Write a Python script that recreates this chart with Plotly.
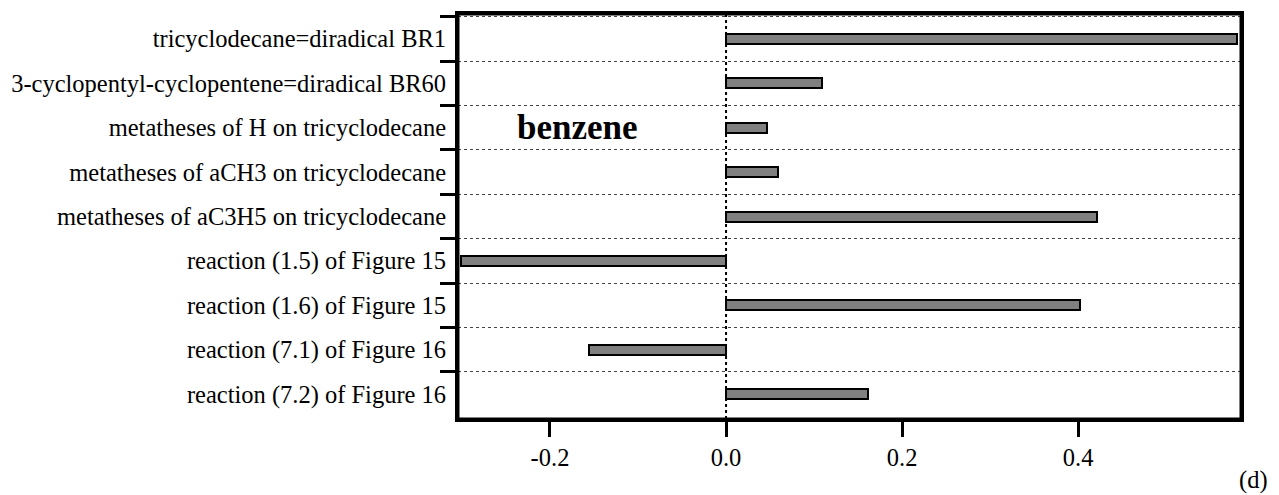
import plotly.graph_objects as go

categories = [
    "tricyclodecane=diradical BR1",
    "3-cyclopentyl-cyclopentene=diradical BR60",
    "metatheses of H on tricyclodecane",
    "metatheses of aCH3 on tricyclodecane",
    "metatheses of aC3H5 on tricyclodecane",
    "reaction (1.5) of Figure 15",
    "reaction (1.6) of Figure 15",
    "reaction (7.1) of Figure 16",
    "reaction (7.2) of Figure 16",
]
values = [0.581, 0.109, 0.047, 0.059, 0.421, -0.301, 0.402, -0.156, 0.161]
x_ticks = [-0.2, 0.0, 0.2, 0.4]
x_tick_labels = ["-0.2", "0.0", "0.2", "0.4"]

FONT = "Liberation Serif, Times New Roman, serif"

fig = go.Figure()
fig.add_trace(go.Bar(
    x=values, y=categories, orientation="h", width=0.225,
    marker=dict(color="#808080", line=dict(color="black", width=2)),
    showlegend=False, hoverinfo="x+y",
))

fig.add_shape(type="line", xref="x", yref="paper", x0=0, x1=0, y0=0, y1=1,
              line=dict(color="black", width=2, dash="dot"), layer="above")
fig.add_shape(type="rect", xref="paper", yref="paper", x0=0, x1=1, y0=0, y1=1,
              line=dict(color="black", width=3), fillcolor="rgba(0,0,0,0)", layer="above")

fig.add_annotation(text="<b>benzene</b>", xref="x", yref="y", x=-0.169, y=categories[2],
                   showarrow=False, font=dict(family=FONT, size=35, color="black"))
fig.add_annotation(text="(d)", xref="paper", yref="paper", x=1.016, y=-0.151,
                   xanchor="center", yanchor="middle", showarrow=False,
                   font=dict(family=FONT, size=24.5, color="black"))

fig.update_layout(
    width=1271, height=487,
    margin=dict(l=450, r=38, t=6, b=76, autoexpand=False),
    paper_bgcolor="white", plot_bgcolor="white",
    font=dict(family=FONT, size=24.5, color="black"),
    bargap=0,
)
fig.update_xaxes(
    range=[-0.3045, 0.585], tickvals=x_ticks, ticktext=x_tick_labels,
    showgrid=False, zeroline=False,
    showline=True, linecolor="black", linewidth=3, mirror=True,
    ticks="outside", ticklen=15, tickwidth=3, tickcolor="black",
    tickfont=dict(family=FONT, size=24.5, color="black"),
)
fig.update_yaxes(
    type="category", categoryorder="array", categoryarray=categories,
    range=[len(categories) - 0.5 + 0.06, -0.56],
    tickson="boundaries", ticks="outside", ticklen=15, tickwidth=3, tickcolor="black",
    showgrid=True, gridcolor="#444", gridwidth=1, griddash="dot",
    showline=True, linecolor="black", linewidth=3, mirror=True,
    zeroline=False, ticklabelstandoff=4,
    tickfont=dict(family=FONT, size=24.5, color="black"),
)

fig.write_html("out.html")
